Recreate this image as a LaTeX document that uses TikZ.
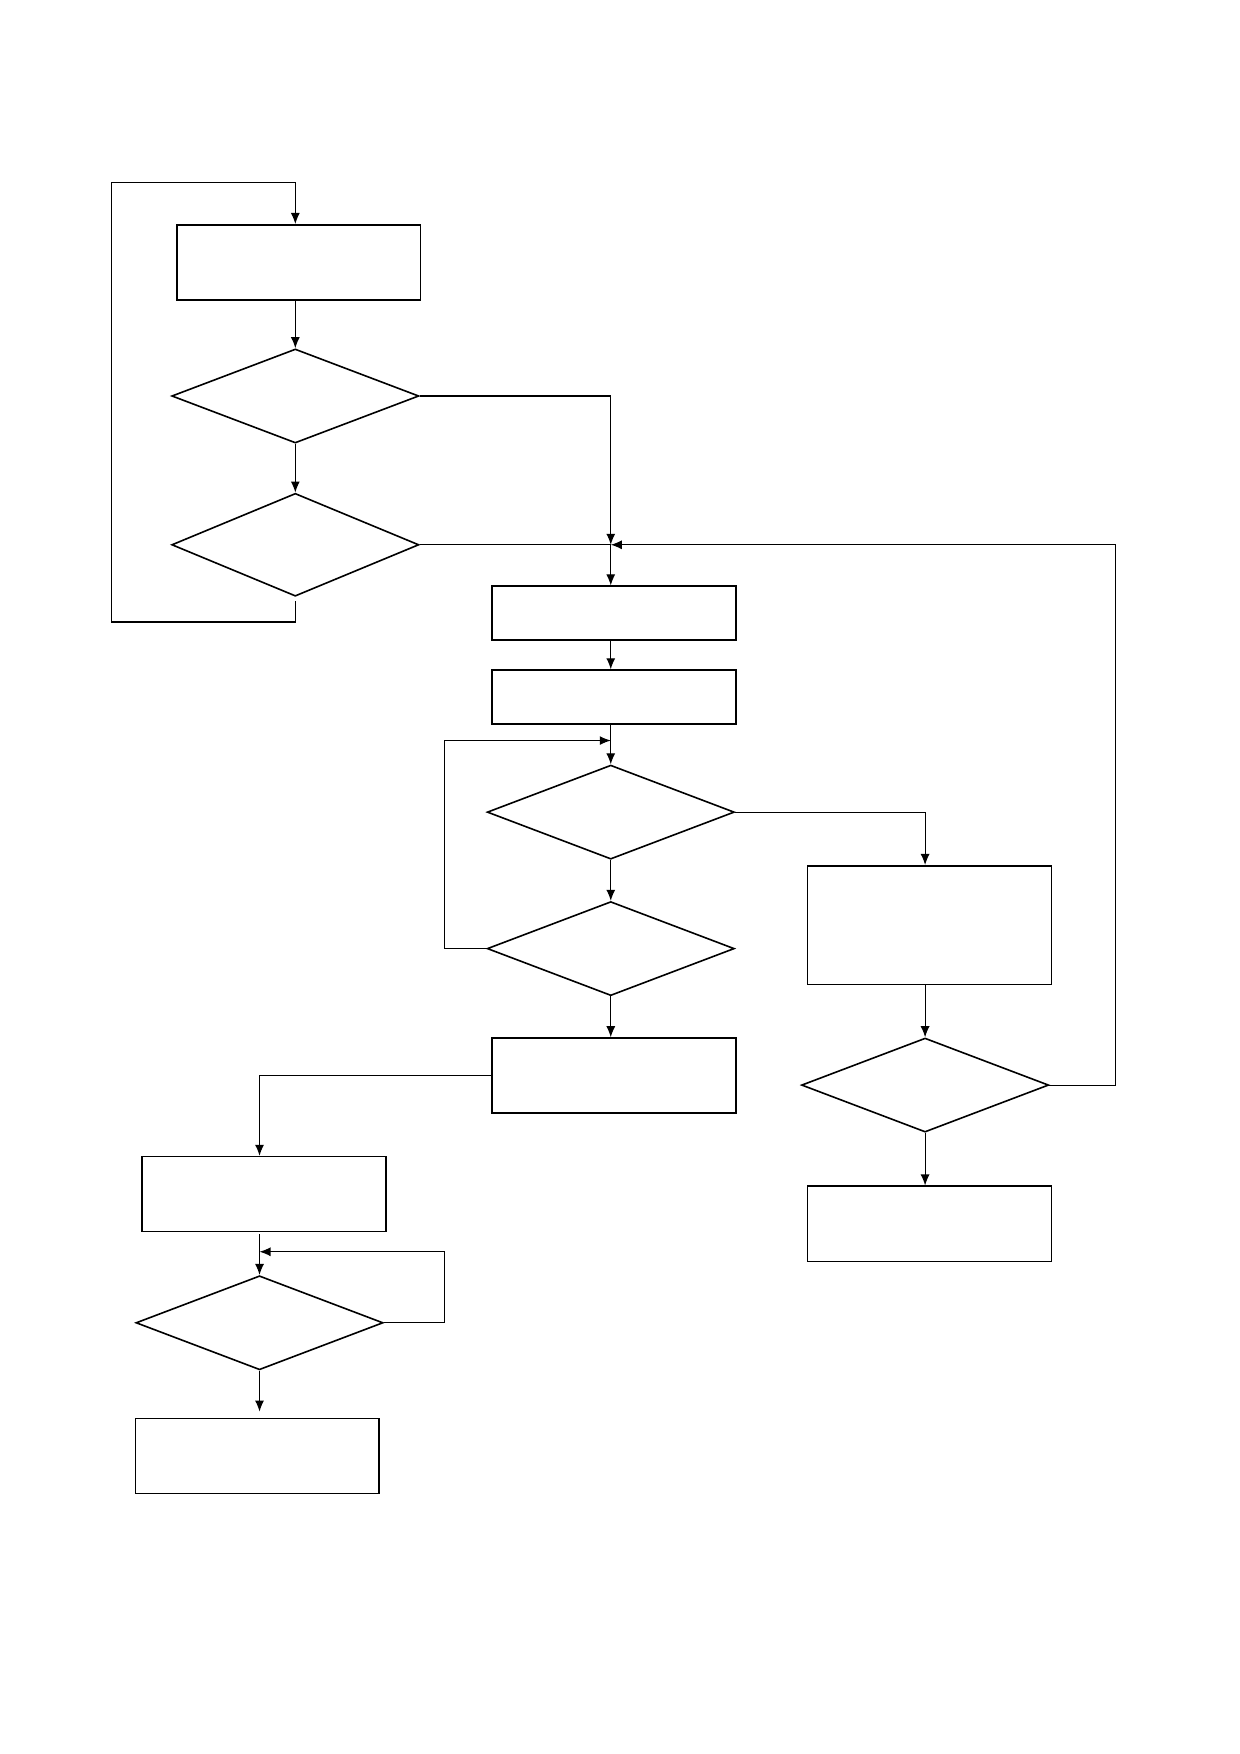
\documentclass[tikz,border=0pt]{standalone}
\usepackage{tikz}
\usetikzlibrary{arrows.meta}
\usetikzlibrary{positioning, shapes.geometric}

\begin{document}
\begin{tikzpicture}[x=0.559pt, y=-0.559pt]
	\tikzstyle{box}=[rectangle, draw=black!100, line width=0.8pt, minimum width=121.9pt, minimum height=37.5pt, inner sep=0pt]
	\tikzstyle{flat}=[minimum height=26.8pt]
	\tikzstyle{tall}=[minimum height=59.3pt]
	\tikzstyle{test}=[diamond, draw=black!100, line width=0.8pt, minimum width=123.5pt, minimum height=47pt, inner sep=0pt]
	\tikzstyle{connect}=[-{Latex[length=5.5pt, width=4.5pt]}, line width=0.55pt]
	\tikzstyle{line}=[line width=0.55pt]
	
	\useasboundingbox (0,0) rectangle (1108,1568);
	
	\node[box] at (267,234.5) (b1) {};
	\node[test] at (264,354) (d1) {};
	\node[test, minimum height=51.4pt] at (264,487) (d2) {};
	
	\node[box, flat] at (549,548) (b2) {};
	\node[box, flat] at (549,623) (b3) {};
	\node[test] at (546,726) (d3) {};
	\node[test] at (546,848) (d4) {};
	\node[box] at (549,961.5) (b5) {};
	
	\node[box, tall] at (831,827) (b4) {};
	\node[test] at (827,970) (d5) {};
	\node[box] at (831,1094) (b8) {};
	
	\node[box] at (236,1067.5) (b6) {};
	\node[test] at (232,1182.5) (d6) {};
	\node[box] at (230,1301.5) (b7) {};
	
	\coordinate (j1) at (546,487);
	\coordinate (j2) at (546,662);
	\coordinate (j3) at (232,1119);
	
	% left column and its loop
	\draw[connect] (b1.south -| d1.north) -- (d1);
	\draw[connect] (d1) -- (d2);
	\draw[connect] ([yshift=-2pt]d2.south) -- (264,556) -| (100,163) -| (d1.north |- b1.north);
	
	% into the middle column
	\draw[connect] (d1.east) -| (j1);
	\draw[line] (d2.east) -- (j1);
	\draw[connect] (j1) -- (j1 |- b2.north);
	\draw[connect] (j1 |- b2.south) -- (j1 |- b3.north);
	\draw[connect] (j1 |- b3.south) -- (d3);
	\draw[connect] (d3) -- (d4);
	\draw[connect] (d4) -- (d4.south |- b5.north);
	\draw[connect] (d4.west) -- (397,848) |- (j2);
	
	% right column
	\draw[connect] (d3.east) -| (d5.north |- b4.north);
	\draw[connect] (d5.north |- b4.south) -- (d5);
	\draw[connect] (d5) -- (d5.south |- b8.north);
	\draw[connect] (d5.east) -- (997,970) |- (j1);
	
	% bottom left
	\draw[connect] (b5.west) -| (d6.north |- b6.north);
	\draw[connect] ([yshift=-1pt]d6.north |- b6.south) -- (d6);
	\draw[connect] (d6.east) -- (397,1182.5) |- (j3);
	\draw[connect, shorten >=3pt] (d6) -- (d6.south |- b7.north);
	
\end{tikzpicture}
\end{document}
